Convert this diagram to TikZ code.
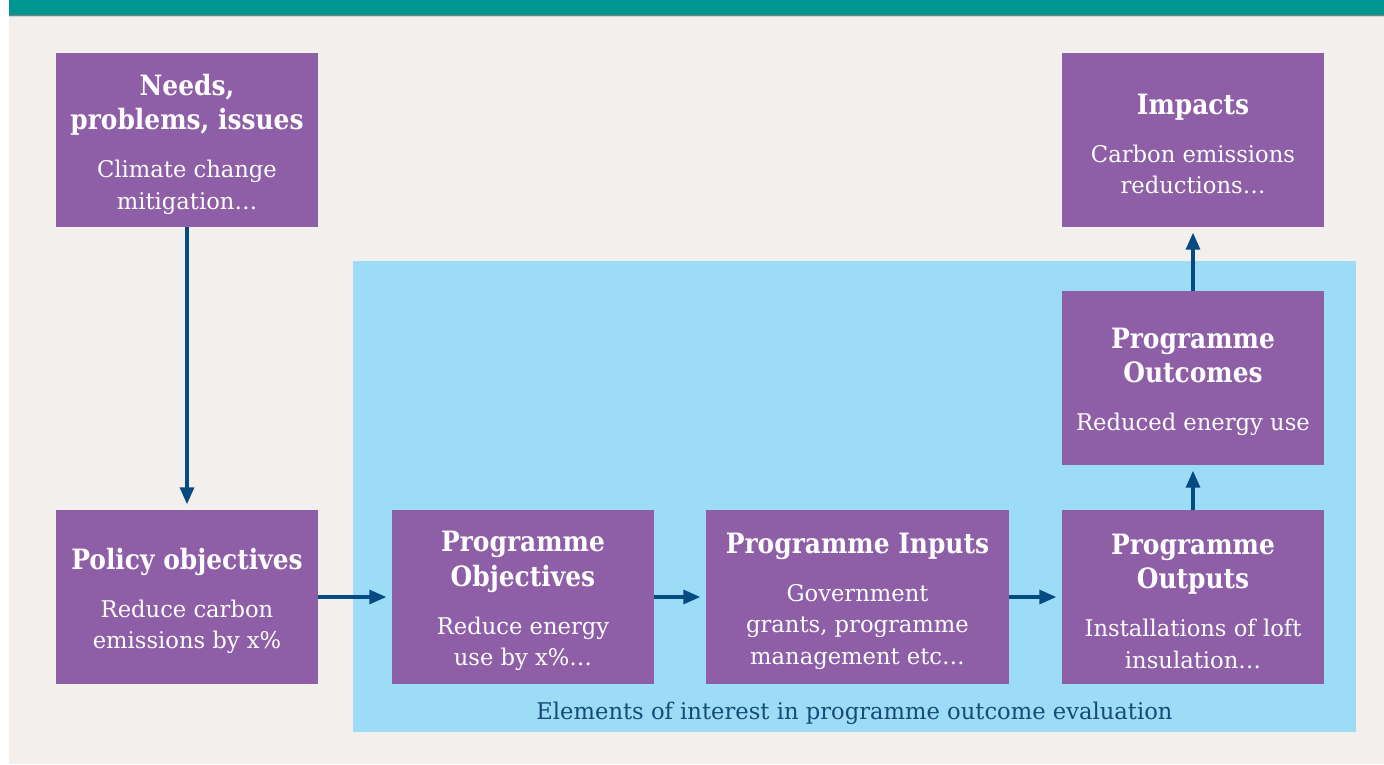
\documentclass[tikz,border=0pt]{standalone}
\usepackage{fontspec}
\setmainfont{DejaVu Serif}[UprightFeatures={FakeStretch=0.985}, BoldFeatures={FakeStretch=0.89}]
\usetikzlibrary{arrows.meta}
\definecolor{tealbar}{RGB}{0,150,144}
\definecolor{bgcol}{RGB}{243,239,236}
\definecolor{purp}{RGB}{142,94,166}
\definecolor{panel}{RGB}{156,220,247}
\definecolor{arrcol}{RGB}{6,74,130}
\definecolor{captcol}{RGB}{24,74,120}
\definecolor{shade}{RGB}{200,198,194}
\newcommand\bxtext[3]{\begin{minipage}{#1pt}\vspace*{8pt}\centering\color{white}\fontsize{28}{34.5}\selectfont\bfseries #2\par\vspace{16.5pt}\fontsize{23}{31.5}\selectfont\mdseries #3\par\end{minipage}}
\tikzset{
  pbox/.style={fill=purp, inner sep=0pt, minimum width=262pt, minimum height=174pt},
  wbox/.style={pbox, minimum width=303pt},
  arr/.style={draw=arrcol, line width=3.2pt, -{Triangle[length=17pt,width=14pt]}, shorten >=5.5pt}
}
\begin{document}
\begin{tikzpicture}[x=1pt,y=-1pt]
\useasboundingbox (0,0) rectangle (1384,764);
\fill[white] (0,0) rectangle (1384,764);
\fill[bgcol] (9,15) rectangle (1384,764);
\fill[tealbar] (9,0) rectangle (1384,15);
\fill[shade] (9,15) rectangle (1384,16.5);
\fill[panel] (353,261) rectangle (1356,732);
\node[pbox] (needs) at (187,140) {\bxtext{256}{Needs,\\problems, issues}{Climate change\\mitigation…}};
\node[pbox] (impacts) at (1193,140) {\bxtext{256}{Impacts}{Carbon emissions\\reductions…}};
\node[pbox] (policy) at (187,597) {\bxtext{256}{Policy objectives}{Reduce carbon\\emissions by x\%}};
\node[pbox] (obj) at (523,597) {\bxtext{256}{Programme\\Objectives}{Reduce energy\\use by x\%…}};
\node[wbox] (inputs) at (857.5,597) {\bxtext{296}{Programme Inputs}{Government\\grants, programme\\management etc…}};
\node[pbox] (outputs) at (1193,597) {\bxtext{256}{Programme\\Outputs}{Installations of loft\\insulation…}};
\node[pbox] (outcomes) at (1193,378) {\bxtext{256}{Programme\\Outcomes}{Reduced energy use}};
\node[anchor=base, inner sep=0pt, text=captcol, font=\fontsize{23}{28}\selectfont] (cap) at (854.5,719) {Elements of interest in programme outcome evaluation};
\draw[arr] (needs.south) -- (policy.north);
\draw[arr] (policy.east) -- (obj.west);
\draw[arr] (obj.east) -- (inputs.west);
\draw[arr] (inputs.east) -- (outputs.west);
\draw[arr] (outputs.north) -- (outcomes.south);
\draw[arr] (outcomes.north) -- (impacts.south);
\end{tikzpicture}
\end{document}
